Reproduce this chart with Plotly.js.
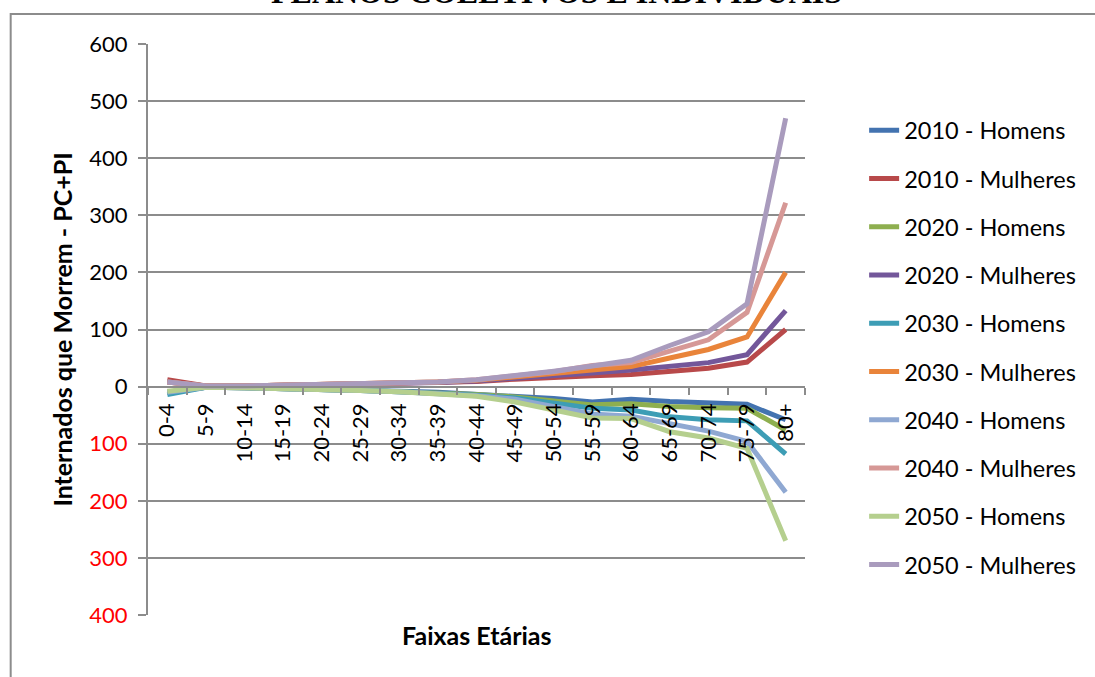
<!DOCTYPE html>
<html><head><meta charset="utf-8">
<script src="https://cdn.plot.ly/plotly-3.0.1.min.js"></script>
<style>html,body{margin:0;padding:0;background:#fff;}#chart{width:1095px;height:677px;}</style>
</head><body><div id="chart"></div>
<script>
const categories = ['0-4','5-9','10-14','15-19','20-24','25-29','30-34','35-39','40-44','45-49','50-54','55-59','60-64','65-69','70-74','75-79','80+'];
const h2010 = [-10,-1,-2,-3,-5,-7,-8,-10,-13,-16,-21,-27,-22,-26,-28,-31,-58];
const m2010 = [12,1,1,2,3,4,5,7,9,13,17,19,21,26,32,43,100];
const h2020 = [-10,-1,-2,-3,-5,-7,-9,-11,-14,-18,-25,-32,-30,-35,-37,-38,-76];
const m2020 = [8,1,1,2,3,4,6,7,10,14,19,24,29,35,42,56,133];
const h2030 = [-14,-1,-2,-3,-5,-7,-9,-11,-15,-20,-28,-38,-41,-53,-58,-60,-118];
const m2030 = [8,1,1,2,3,4,6,8,11,17,23,29,35,50,65,87,200];
const h2040 = [-10,-1,-2,-3,-5,-7,-9,-12,-16,-22,-36,-48,-52,-66,-78,-96,-185];
const m2040 = [8,1,1,2,3,5,6,8,12,19,26,37,42,62,82,130,322];
const h2050 = [-8,-1,-2,-3,-5,-7,-9,-12,-17,-27,-42,-55,-56,-79,-90,-108,-270];
const m2050 = [8,1,1,2,3,5,6,8,12,19,27,36,46,72,96,145,470];
const seriesNames = ['2010 - Homens','2010 - Mulheres','2020 - Homens','2020 - Mulheres','2030 - Homens','2030 - Mulheres','2040 - Homens','2040 - Mulheres','2050 - Homens','2050 - Mulheres'];
const seriesData = [h2010,m2010,h2020,m2020,h2030,m2030,h2040,m2040,h2050,m2050];
const colors = ['#4373B0','#B8494A','#8EAF4F','#73579A','#3D9DB5','#E9843A','#8FA8D2','#D69896','#B5CF8E','#A99BBD'];
const yTickVals = [-400,-300,-200,-100,0,100,200,300,400,500,600];
const yTickText = yTickVals.map(v => v < 0 ? '<span style="fill:#FF0000">' + Math.abs(v) + '</span>' : String(v));

const traces = seriesData.map((d,i) => ({
  type:'scatter', mode:'lines', x:categories, y:d, name:seriesNames[i],
  legendgroup:'g'+i,
  line:{color:colors[i], width:5}
}));

const grey = '#8C8C8C';
const layout = {
  width:1095, height:677,
  margin:{l:148, r:290, t:44, b:62},
  paper_bgcolor:'#fff', plot_bgcolor:'#fff',
  font:{family:'Lato, sans-serif', color:'#000', size:22},
  showlegend:true,
  legend:{x:1.09, xanchor:'left', y:0.887, yanchor:'top', tracegroupgap:14.7, font:{size:23.5, family:'Lato, sans-serif'}, bgcolor:'rgba(0,0,0,0)'},
  xaxis:{
    type:'category', range:[-0.5,16.5], anchor:'free', position:0.4,
    showgrid:false, showline:true, linecolor:grey, linewidth:2,
    ticks:'outside', tickson:'boundaries', ticklen:7, tickcolor:grey, tickwidth:2,
    tickangle:-90, tickfont:{size:22}, zeroline:false, ticklabelstandoff:7,
    title:{text:''}
  },
  yaxis:{
    range:[-400,600], tickvals:yTickVals, ticktext:yTickText,
    showgrid:true, gridcolor:grey, gridwidth:2, zeroline:false,
    showline:true, linecolor:grey, linewidth:2,
    ticks:'outside', ticklen:8, tickcolor:grey, tickwidth:2, ticklabelstandoff:6,
    tickfont:{size:22},
    title:{text:'<b>Internados que Morrem - PC+PI</b>', font:{size:25}, standoff:10}
  },
  annotations:[
    {text:'<b>Faixas Etárias</b>', xref:'paper', yref:'paper', x:0.5, y:-0.006, yanchor:'top', showarrow:false, font:{size:25}},
    {text:'<b>PLANOS COLETIVOS E INDIVIDUAIS</b>', xref:'paper', yref:'paper', x:0.6225, y:1.056, yanchor:'bottom', showarrow:false, font:{size:32, family:'Liberation Serif, serif'}}
  ],
  shapes:[
    {type:'rect', xref:'paper', yref:'paper', x0:-0.209, x1:1.5, y0:-0.2, y1:1.0525, line:{color:grey, width:2}, fillcolor:'rgba(0,0,0,0)', layer:'below'}
  ]
};
Plotly.newPlot('chart', traces, layout, {displayModeBar:false});
</script></body></html>
